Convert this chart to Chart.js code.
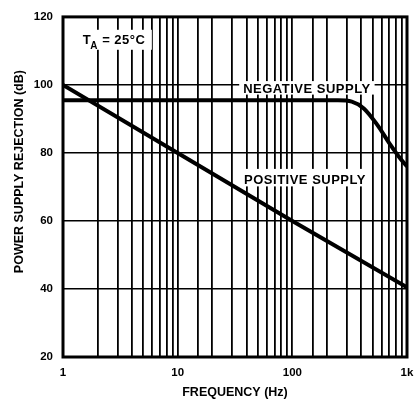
<!DOCTYPE html>
<html>
<head>
<title>PSRR vs Frequency</title>
<script src="https://cdn.jsdelivr.net/npm/chart.js"></script>
<style>
  body { margin: 0; background: #fff; }
</style>
</head>
<body>
<canvas id="psrrChart" width="415" height="400"></canvas>
<script>
// values
var posFreq = [1, 10, 100, 1000];
var posDb = [100, 80, 60, 40.5];
var negFreq = [1, 100, 250, 330, 420, 547, 710, 867, 1000];
var negDb = [95.5, 95.5, 95.5, 95.1, 93.1, 88.4, 82.6, 78.5, 76];
var freqLabels = { 1: '1', 10: '10', 100: '100', 1000: '1k' };

var FONT = "'Liberation Sans', Arial, sans-serif";

function toPoints(xs, ys) {
    return xs.map(function (x, i) { return { x: x, y: ys[i] }; });
}

// text boxes with white background, placed in data units
function drawLabel(chart, text, xVal, yVal, opts) {
    var ctx = chart.ctx;
    var xs = chart.scales.x, ys = chart.scales.y;
    var px = xs.getPixelForValue(xVal);
    var py = ys.getPixelForValue(yVal);
    ctx.save();
    ctx.font = 'bold 13px ' + FONT;
    ctx.letterSpacing = '0.5px';
    var w = ctx.measureText(text).width;
    var left = opts.align === 'left' ? px : px - w / 2;
    ctx.fillStyle = '#fff';
    ctx.fillRect(left - opts.padX, py - opts.up, w + 2 * opts.padX, opts.up + opts.down);
    ctx.fillStyle = '#000';
    ctx.textAlign = 'left';
    ctx.textBaseline = 'alphabetic';
    ctx.fillText(text, left, py);
    ctx.restore();
}

var annotations = {
    id: 'annotations',
    afterDatasetsDraw: function (chart) {
        drawLabel(chart, 'NEGATIVE SUPPLY', 134, 97.6, { padX: 4, up: 12, down: 1.5 });
        drawLabel(chart, 'POSITIVE SUPPLY', 129, 70.9, { padX: 4, up: 15, down: 2.5 });

        // T_A = 25°C with subscript
        var ctx = chart.ctx;
        var px = chart.scales.x.getPixelForValue(1.49);
        var py = chart.scales.y.getPixelForValue(112.1);
        ctx.save();
        ctx.fillStyle = '#fff';
        ctx.fillRect(px - 7, py - 14, 76, 20);
        ctx.fillStyle = '#000';
        ctx.letterSpacing = '0.5px';
        ctx.font = 'bold 13px ' + FONT;
        ctx.fillText('T', px, py);
        var x = px + ctx.measureText('T').width;
        ctx.font = 'bold 10px ' + FONT;
        ctx.fillText('A', x - 1, py + 5);
        x += ctx.measureText('A').width - 1;
        ctx.font = 'bold 13px ' + FONT;
        ctx.fillText(' = 25\u00B0C', x, py);
        ctx.restore();
    },
    afterDraw: function (chart) {
        var ctx = chart.ctx;
        var a = chart.chartArea;
        ctx.save();
        ctx.strokeStyle = '#000';
        ctx.lineWidth = 3;
        ctx.strokeRect(a.left, a.top, a.right - a.left, a.bottom - a.top);

        // y axis title, sits a bit above the middle in the original
        ctx.translate(20, a.top + (a.bottom - a.top) * 0.455);
        ctx.rotate(-Math.PI / 2);
        ctx.font = 'bold 12.5px ' + FONT;
        ctx.textAlign = 'center';
        ctx.textBaseline = 'middle';
        ctx.fillStyle = '#000';
        ctx.fillText('POWER SUPPLY REJECTION (dB)', 0, 0);
        ctx.restore();
    }
};

var ctxEl = document.getElementById('psrrChart');
var psrrChart = new Chart(ctxEl, {
    type: 'scatter',
    data: {
        datasets: [
            {
                label: 'Negative Supply',
                data: toPoints(negFreq, negDb),
                showLine: true,
                borderColor: '#000',
                borderWidth: 4,
                pointRadius: 0,
                tension: 0.3,
                cubicInterpolationMode: 'monotone'
            },
            {
                label: 'Positive Supply',
                data: toPoints(posFreq, posDb),
                showLine: true,
                borderColor: '#000',
                borderWidth: 4,
                pointRadius: 0
            }
        ]
    },
    options: {
        responsive: false,
        animation: false,
        layout: { padding: { top: 15, right: 0, left: 0, bottom: 0 } },
        plugins: {
            legend: { display: false },
            tooltip: { enabled: false }
        },
        scales: {
            x: {
                type: 'logarithmic',
                min: 1,
                max: 1000,
                border: { display: false },
                grid: { color: '#000', lineWidth: 1.8, drawTicks: false },
                ticks: {
                    autoSkip: false,
                    maxRotation: 0,
                    padding: 9,
                    color: '#000',
                    font: { family: FONT, size: 11.5, weight: 'bold' },
                    callback: function (value) {
                        return freqLabels[value] || '';
                    }
                },
                title: {
                    display: true,
                    text: 'FREQUENCY (Hz)',
                    color: '#000',
                    padding: 0,
                    font: { family: FONT, size: 12.5, weight: 'bold' }
                },
                afterFit: function (scale) {
                    scale.height = 43;
                    scale.paddingRight = 8;
                }
            },
            y: {
                min: 20,
                max: 120,
                border: { display: false },
                grid: { color: '#000', lineWidth: 1.5, drawTicks: false },
                ticks: {
                    stepSize: 20,
                    padding: 10,
                    color: '#000',
                    font: { family: FONT, size: 11.5, weight: 'bold' }
                },
                afterFit: function (scale) { scale.width = 63; }
            }
        }
    },
    plugins: [annotations]
});
</script>
</body>
</html>
